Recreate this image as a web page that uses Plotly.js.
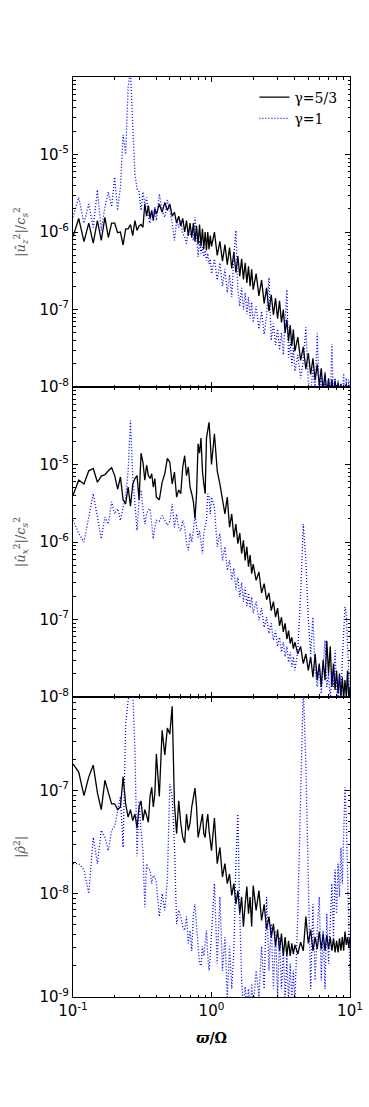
<!DOCTYPE html>
<html>
<head>
<meta charset="utf-8">
<script src="https://cdn.plot.ly/plotly-3.0.1.min.js"></script>
<style>
  html, body { margin: 0; padding: 0; background: #fff; }
  #chart { width: 369px; height: 1107px; }
</style>
</head>
<body>
<div id="chart"></div>
<script>
/**
 * Frequency grid (w / Omega)
 */
const freq = [
  0.10,0.11,0.12,0.13,0.14,0.15,0.16,0.17,0.18,0.19,
  0.20,0.21,0.22,0.23,0.24,0.25,0.26,0.27,0.28,0.29,
  0.30,0.31,0.32,0.33,0.34,0.35,0.36,0.37,0.38,0.39,0.40,
  0.42,0.44,0.46,0.48,0.50,0.52,0.54,0.56,0.58,0.60,
  0.62,0.64,0.66,0.68,0.70,0.72,0.74,0.76,0.78,0.80,
  0.82,0.84,0.86,0.88,0.90,0.92,0.94,0.96,0.98,1.00,
  1.05,1.10,1.15,1.20,1.25,1.30,1.35,1.40,1.45,1.50,1.55,1.60,1.65,1.70,1.75,1.80,1.85,1.90,1.95,2.00,
  2.1,2.2,2.3,2.4,2.5,2.6,2.7,2.8,2.9,3.0,3.1,3.2,3.3,3.4,3.5,3.6,3.7,3.8,3.9,4.0,
  4.2,4.4,4.6,4.8,5.0,5.2,5.4,5.6,5.8,6.0,6.2,6.4,6.6,6.8,7.0,7.2,7.4,7.6,7.8,8.0,
  8.2,8.4,8.6,8.8,9.0,9.2,9.4,9.6,9.8,10.0
];

/**
 * Top panel: |u_z|^2 / c_s^2
 */
const uzG53 = [
  8.7e-7,1.5e-6,7.5e-7,1.3e-6,7.2e-7,1.4e-6,7.8e-7,1.55e-6,8.5e-7,1.3e-6,
  1.3e-6,9.8e-7,1.0e-6,6.8e-7,1.1e-6,1.1e-6,1.25e-6,9e-7,1.4e-6,1.05e-6,
  1.2e-6,1.25e-6,1.15e-6,2.3e-6,1.6e-6,2.2e-6,1.5e-6,1.9e-6,1.4e-6,2.0e-6,1.7e-6,
  2.3e-6,1.8e-6,2.4e-6,1.9e-6,2.3e-6,1.6e-6,1.8e-6,1.3e-6,1.6e-6,1.2e-6,
  1.5e-6,1.0e-6,1.4e-6,9e-7,1.3e-6,8.5e-7,1.3e-6,7.5e-7,1.2e-6,7e-7,
  1.25e-6,6.5e-7,1.1e-6,6e-7,1.0e-6,5.8e-7,1.0e-6,6e-7,9e-7,6.5e-7,
  1.0e-6,5.0e-7,7.6e-7,4.2e-7,6.9e-7,3.8e-7,6.3e-7,3.4e-7,5.5e-7,3.0e-7,4.9e-7,2.7e-7,4.5e-7,2.45e-7,4.0e-7,2.2e-7,3.6e-7,2.0e-7,3.3e-7,1.8e-7,
  2.9e-7,1.5e-7,2.4e-7,1.2e-7,1.9e-7,9.5e-8,1.55e-7,8.5e-8,1.4e-7,7.6e-8,1.3e-7,6.8e-8,1.0e-7,5.0e-8,7.4e-8,3.9e-8,6.3e-8,3.4e-8,5.5e-8,2.9e-8,
  4.4e-8,2.2e-8,3.3e-8,1.7e-8,2.75e-8,1.45e-8,2.35e-8,1.23e-8,1.95e-8,1.05e-8,1.75e-8,8.9e-9,1.5e-8,8e-9,1.3e-8,8e-9,1.25e-8,8e-9,1.2e-8,8e-9,
  1.15e-8,8e-9,1.1e-8,8e-9,1.05e-8,8e-9,1.1e-8,8e-9,1.05e-8,8e-9
];
const uzG1 = [
  1.55e-6,2.8e-6,1.3e-6,2.3e-6,1.15e-6,3.5e-6,1.05e-6,2.1e-6,3.3e-6,2.1e-6,
  5.1e-6,1.9e-6,3.8e-6,1.8e-5,1.0e-5,7.4e-5,1.2e-4,1.85e-5,5.6e-6,3.6e-6,
  3.3e-6,1.9e-6,3.3e-6,2.3e-6,2.8e-6,1.55e-6,1.3e-6,1.9e-6,1.55e-6,2.1e-6,1.4e-6,
  3.1e-6,1.9e-6,1.55e-6,2.6e-6,1.9e-6,1.3e-6,7.8e-7,1.4e-6,1.15e-6,1.4e-6,
  9.5e-7,8.6e-7,7.1e-7,1.05e-6,9.5e-7,8.6e-7,7.8e-7,1.55e-6,7.1e-7,4.8e-7,
  7.8e-7,5.3e-7,6.4e-7,4.8e-7,5.8e-7,4.3e-7,5.3e-7,3.9e-7,4.5e-7,2.9e-7,
  4.5e-7,2.4e-7,4.0e-7,2.0e-7,3.3e-7,1.65e-7,2.8e-7,1.45e-7,5e-7,1.05e-6,1.8e-7,1.1e-7,1.9e-7,1.0e-7,1.65e-7,8.7e-8,1.45e-7,7.6e-8,1.25e-7,6.8e-8,
  1.1e-7,5.6e-8,9.5e-8,4.8e-8,8.3e-8,2.6e-7,4.0e-8,6.6e-8,3.5e-8,5.6e-8,3.0e-8,5.0e-8,2.6e-8,6.3e-8,1.8e-7,2.4e-8,3.8e-8,1.9e-8,3.2e-8,1.6e-8,
  2.6e-8,1.3e-8,2.2e-8,5.9e-8,1.2e-8,7.9e-9,1.8e-8,8.9e-9,4.9e-8,7.9e-9,1.4e-8,6.3e-9,1.6e-8,6.3e-9,1.25e-8,6.3e-9,3.6e-8,6.3e-9,1.3e-8,6.3e-9,
  1.25e-8,6.3e-9,1.1e-8,6.3e-9,1.5e-8,6.3e-9,1.3e-8,6.3e-9,1.25e-8,6.3e-9
];

/**
 * Middle panel: |u_x|^2 / c_s^2
 */
const uxG53 = [
  4.0e-6,6.3e-6,5.6e-6,8.3e-6,8.9e-6,5.9e-6,7.1e-6,7.4e-6,8.3e-6,9.1e-6,
  7.2e-6,4.8e-6,6.9e-6,3.5e-6,3.1e-6,5.1e-6,2.9e-6,5.6e-6,6.6e-6,7.2e-6,
  3.5e-6,1.4e-5,1.07e-5,6.3e-6,9.8e-6,7.2e-6,6.6e-6,7.6e-6,5.1e-6,6.6e-6,3.8e-6,
  3.5e-6,5.9e-6,7.6e-6,1.2e-5,1.07e-5,5.6e-6,8.0e-6,3.8e-6,4.7e-6,4.2e-6,
  9.3e-6,1.3e-5,7.2e-6,9.3e-6,5.1e-6,4.2e-6,3.3e-6,2.0e-6,4.2e-6,1.85e-5,
  1.4e-5,2.2e-5,8.3e-6,5.6e-6,4.2e-6,2.2e-5,3.0e-5,3.5e-5,2.0e-5,1.0e-5,
  2.5e-5,8.3e-6,5.6e-6,3.5e-6,2.3e-6,3.8e-6,1.55e-6,2.3e-6,1.15e-6,1.7e-6,9.5e-7,1.3e-6,7.1e-7,1.05e-6,5.8e-7,8.7e-7,4.8e-7,6.8e-7,3.9e-7,5.2e-7,
  3.2e-7,4.1e-7,2.2e-7,2.9e-7,1.8e-7,2.2e-7,1.3e-7,1.7e-7,1.07e-7,1.4e-7,8.3e-8,1.07e-7,6.9e-8,8.9e-8,5.6e-8,7.2e-8,4.9e-8,5.9e-8,4.2e-8,5.1e-8,
  3.6e-8,4.5e-8,2.7e-8,3.6e-8,2.2e-8,3.3e-8,1.8e-8,3.6e-8,1.65e-8,2.7e-8,1.35e-8,3.0e-8,1.65e-8,5.3e-8,2.0e-8,4.5e-8,1.35e-8,2.7e-8,1.23e-8,2.2e-8,
  1.1e-8,2.0e-8,1.0e-8,1.8e-8,9.5e-9,1.65e-8,1.0e-8,2.2e-8,9e-9,1.35e-8
];
const uxG1 = [
  1.9e-6,1.3e-6,1.0e-6,2.1e-6,4.2e-6,2.1e-6,1.1e-6,2.1e-6,1.7e-6,3.3e-6,
  2.3e-6,2.7e-6,1.9e-6,2.8e-6,3.8e-6,8.3e-6,3.7e-5,6.9e-6,2.8e-6,1.4e-6,
  3.5e-6,4.7e-6,2.7e-6,1.7e-6,2.3e-6,2.6e-6,2.7e-6,1.55e-6,1.1e-6,1.55e-6,1.9e-6,
  1.85e-6,2.2e-6,1.9e-6,1.65e-6,1.85e-6,3.1e-6,1.55e-6,2.3e-6,1.5e-6,1.4e-6,
  1.9e-6,1.55e-6,9.5e-7,7.8e-7,1.3e-6,1.0e-6,1.4e-6,2.3e-6,1.55e-6,1.15e-6,
  1.4e-6,1.05e-6,7.1e-7,1.3e-6,1.55e-6,1.9e-6,4.2e-6,3.8e-6,2.3e-6,3.8e-6,
  2.8e-6,8.7e-7,1.3e-6,5.8e-7,8.7e-7,4.3e-7,5.8e-7,3.2e-7,4.6e-7,2.4e-7,3.5e-7,1.95e-7,3.0e-7,1.7e-7,2.6e-7,1.5e-7,2.2e-7,1.4e-7,1.95e-7,1.2e-7,
  1.7e-7,9.8e-8,1.4e-7,7.9e-8,1.07e-7,6.6e-8,8.9e-8,5.4e-8,7.2e-8,4.5e-8,5.9e-8,3.8e-8,5.1e-8,3.3e-8,4.5e-8,2.8e-8,3.8e-8,2.45e-8,3.3e-8,2.2e-8,
  4.0e-8,2.1e-7,1.7e-6,5.8e-7,9.8e-8,3.6e-8,1.07e-7,2.2e-8,1.35e-8,2.45e-8,1.1e-8,3e-8,5.4e-8,1.35e-8,2.0e-8,9e-9,2.2e-8,1.35e-8,4.0e-8,1.35e-8,
  8e-9,1.8e-8,9e-9,3e-8,6.6e-8,1.45e-7,1.2e-7,3.6e-8,1.65e-8,8e-9
];

/**
 * Bottom panel: |rho|^2
 */
const rhoG53 = [
  1.8e-7,1.5e-7,8.9e-8,1.35e-7,1.75e-7,9.5e-8,6.5e-8,1.25e-7,9.5e-8,7.4e-8,
  7.4e-8,6.5e-8,6.9e-8,1.35e-7,7.4e-8,5.5e-8,6.5e-8,5.1e-8,5.9e-8,4.3e-8,
  6.9e-8,7.9e-8,5.1e-8,6.5e-8,5.7e-8,4.9e-8,8.7e-8,1.07e-7,6.9e-8,9.3e-8,2.25e-7,
  8.7e-8,3.8e-7,2.2e-7,4.0e-7,3.5e-7,6.5e-7,7.4e-8,3.8e-8,7.9e-8,4.8e-8,
  3.5e-8,3.1e-8,5.9e-8,4.1e-8,4.8e-8,6.9e-8,8.7e-8,1.05e-7,6.9e-8,3.5e-8,
  4.1e-8,5.1e-8,5.9e-8,3.8e-8,3.5e-8,4.8e-8,5.9e-8,4.1e-8,3.3e-8,2.6e-8,
  5.4e-8,1.95e-8,2.8e-8,1.45e-8,1.95e-8,1.25e-8,1.55e-8,9.6e-9,1.25e-8,7.9e-9,1.07e-8,6.4e-9,9.3e-9,4.8e-9,7.9e-9,1.17e-8,6.4e-9,9.3e-9,4.8e-9,1.2e-8,
  6.9e-9,1.07e-8,5.5e-9,7.9e-9,4.5e-9,6.0e-9,3.8e-9,5.1e-9,3.1e-9,4.5e-9,2.8e-9,4.1e-9,2.5e-9,3.8e-9,2.5e-9,3.5e-9,2.5e-9,3.3e-9,2.6e-9,3.2e-9,
  2.6e-9,3.4e-9,2.8e-9,6.0e-9,3.3e-9,4.5e-9,2.8e-9,3.8e-9,2.9e-9,4.3e-9,2.9e-9,4.1e-9,2.8e-9,4.0e-9,2.9e-9,3.8e-9,2.8e-9,3.7e-9,2.7e-9,3.5e-9,
  2.7e-9,3.7e-9,2.8e-9,3.8e-9,2.8e-9,4.3e-9,3.2e-9,3.8e-9,3.0e-9,3.8e-9
];
const rhoG1 = [
  1.95e-8,1.95e-8,1.7e-8,1.0e-8,3.5e-8,1.95e-8,4.1e-8,3.5e-8,2.6e-8,4.1e-8,
  4.5e-8,6.5e-8,8.7e-8,2.8e-8,4.4e-7,7.4e-7,9e-7,9e-7,2.5e-7,2.3e-8,
  7.9e-8,4.1e-8,2.6e-8,7.4e-9,1.95e-8,1.7e-8,1.7e-8,1.25e-8,1.5e-8,1.45e-8,1.25e-8,
  6.0e-9,1.0e-8,6.9e-9,1.35e-8,1.15e-7,8.7e-8,3.0e-8,5.1e-9,6.9e-9,6.0e-9,
  4.8e-9,4.4e-9,6.0e-9,3.3e-9,4.4e-9,2.8e-9,6.4e-9,7.9e-9,4.8e-9,3.1e-9,
  2.1e-9,2.0e-9,3.1e-9,2.5e-9,3.3e-9,4.4e-9,2.5e-9,1.8e-9,2.5e-9,3.8e-9,
  1.25e-8,2.1e-9,9.3e-9,1.8e-9,3.8e-9,1.0e-9,3.1e-9,1.2e-9,2.8e-9,1.95e-8,5.9e-8,6.4e-9,1.45e-9,8e-10,1.26e-9,8e-10,1.2e-9,7.5e-10,1.35e-9,8e-10,
  1.8e-9,1.0e-9,3.1e-9,1.2e-9,9.3e-9,1.8e-9,5.1e-9,1.2e-9,4.4e-9,1.0e-9,3.8e-9,1.2e-9,2.8e-9,9e-10,2.5e-9,9e-10,2.1e-9,9e-10,1.8e-9,9e-10,
  6.4e-9,8.7e-8,1.0e-6,1.8e-7,1.35e-8,1.2e-9,7.9e-9,1.45e-9,4.4e-9,9.3e-9,1.45e-9,4.4e-9,1.2e-9,6.4e-9,2.1e-9,4.4e-9,1.25e-8,3.8e-9,1.7e-8,6.4e-9,
  1.95e-8,9.3e-9,2.8e-8,1.25e-8,4.8e-8,1.07e-7,5.5e-8,1.95e-8,4.4e-9,1.45e-9
];

/**
 * Tick labels
 */
const xTicks = [0.1, 1, 10];
const xTickText = ['10<sup>-1</sup>', '10<sup>0</sup>', '10<sup>1</sup>'];
const uTicks = [1e-8, 1e-7, 1e-6, 1e-5];
const uTickText = ['10<sup>-8</sup>', '10<sup>-7</sup>', '10<sup>-6</sup>', '10<sup>-5</sup>'];
const rhoTicks = [1e-9, 1e-8, 1e-7];
const rhoTickText = ['10<sup>-9</sup>', '10<sup>-8</sup>', '10<sup>-7</sup>'];

// minor ticks at 2..9 of every decade
function minorTicks(lo, hi) {
    let out = [];
    for (let e = lo; e < hi; e++) {
        for (let m = 2; m <= 9; m++) out.push(m * Math.pow(10, e));
    }
    return out;
}

const black = '#000000';
const blue = '#0000ff';
const sans = 'DejaVu Sans, sans-serif';
const serif = 'DejaVu Serif, serif';

function solid(y, xa, ya, name, show) {
    return {
        x: freq, y: y, xaxis: xa, yaxis: ya,
        mode: 'lines', name: name, showlegend: show,
        line: {color: black, width: 1.3}
    };
}

function dotted(y, xa, ya, name, show) {
    return {
        x: freq, y: y, xaxis: xa, yaxis: ya,
        mode: 'lines', name: name, showlegend: show,
        line: {color: blue, width: 1.3, dash: '1px,2px'}
    };
}

function xAxis(anchor, labels, title) {
    return {
        type: 'log', range: [-1, 1], anchor: anchor,
        tickvals: xTicks, ticktext: xTickText, showticklabels: labels,
        ticks: 'inside', ticklen: 5, tickcolor: black, mirror: 'allticks',
        showline: true, linecolor: black, linewidth: 1,
        showgrid: false, zeroline: false,
        minor: {tickvals: minorTicks(-1, 1), ticks: 'inside', ticklen: 2.5, tickcolor: black, showgrid: false},
        tickfont: {family: sans, size: 15, color: black},
        title: {text: title || '', font: {family: serif, size: 14, color: black}, standoff: 14}
    };
}

function yAxis(domain, range, vals, text, title, lo, hi) {
    return {
        type: 'log', domain: domain, range: range,
        tickvals: vals, ticktext: text,
        ticks: 'inside', ticklen: 5, tickcolor: black, mirror: 'allticks',
        showline: true, linecolor: black, linewidth: 1,
        showgrid: false, zeroline: false,
        minor: {tickvals: minorTicks(lo, hi), ticks: 'inside', ticklen: 2.5, tickcolor: black, showgrid: false},
        tickfont: {family: sans, size: 15, color: black},
        title: {text: title, font: {family: serif, size: 13, color: '#555'}, standoff: 10}
    };
}

const data = [
    solid(uzG53, 'x', 'y', '\u03b3=5/3', true),
    dotted(uzG1, 'x', 'y', '\u03b3=1', true),
    solid(uxG53, 'x2', 'y2', '\u03b3=5/3', false),
    dotted(uxG1, 'x2', 'y2', '\u03b3=1', false),
    solid(rhoG53, 'x3', 'y3', '\u03b3=5/3', false),
    dotted(rhoG1, 'x3', 'y3', '\u03b3=1', false)
];

const layout = {
    width: 369, height: 1107,
    margin: {l: 73, r: 19, t: 77, b: 110},
    paper_bgcolor: '#fff', plot_bgcolor: '#fff',
    showlegend: true,
    legend: {
        x: 0.655, y: 0.995, xanchor: 'left', yanchor: 'top',
        bgcolor: 'rgba(255,255,255,0)', borderwidth: 0,
        font: {family: serif, size: 14, color: black},
        tracegroupgap: 0
    },
    xaxis: xAxis('y', false),
    xaxis2: xAxis('y2', false),
    xaxis3: xAxis('y3', true, '<b><i>\u03d6</i>/\u03a9</b>'),
    yaxis: yAxis([0.663, 1], [-8, -4], uTicks, uTickText,
        '|<i>\u00fb</i><sub><i>z</i></sub><sup>2</sup>|/<i>c</i><sub><i>s</i></sub><sup>2</sup>', -8, -4),
    yaxis2: yAxis([0.3261, 0.663], [-8, -4], uTicks, uTickText,
        '|<i>\u00fb</i><sub><i>x</i></sub><sup>2</sup>|/<i>c</i><sub><i>s</i></sub><sup>2</sup>', -8, -4),
    yaxis3: yAxis([0, 0.3261], [-9, Math.log10(8e-7)], rhoTicks, rhoTickText,
        '|<i>\u03c1\u0302</i><sup>2</sup>|', -9, -6)
};

Plotly.newPlot('chart', data, layout, {staticPlot: true, displayModeBar: false});
</script>
</body>
</html>
